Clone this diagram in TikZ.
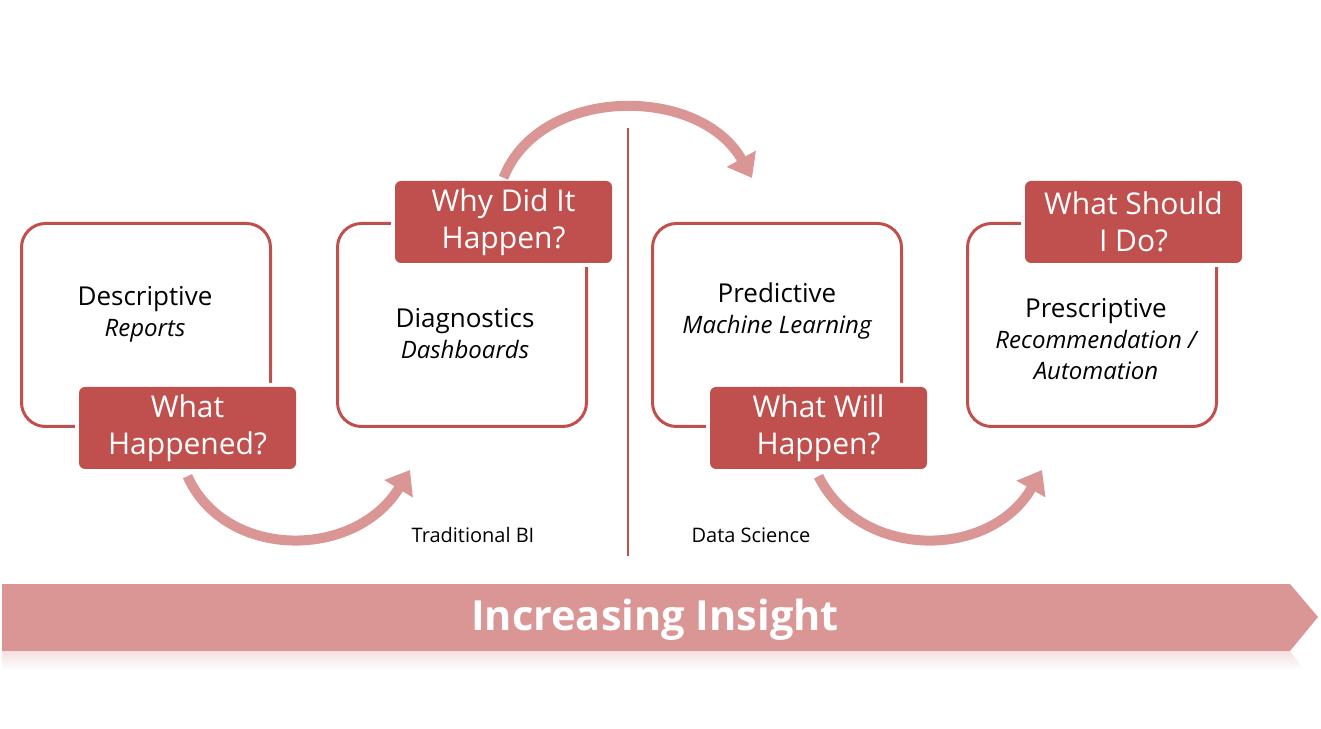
\documentclass[tikz,border=0pt]{standalone}
\usepackage{fontspec}
\setmainfont{Open Sans}
\usetikzlibrary{arrows.meta,positioning}
\definecolor{darkred}{HTML}{C0504D}
\definecolor{lightred}{HTML}{D99694}
\newcommand{\subline}[1]{{\fontsize{24}{31}\selectfont\itshape #1}}
\tikzset{
	stagebox/.style={draw=darkred,line width=3pt,rounded corners=24pt,minimum width=249pt,minimum height=203pt},
	qbox/.style={fill=darkred,text=white,rounded corners=6pt,minimum width=217pt,minimum height=82pt,inner sep=0pt,align=center,
		font=\fontsize{30}{37}\selectfont,preaction={draw=white,line width=8pt}},
	stagetext/.style={align=center,font=\fontsize{26}{31}\selectfont},
	flow/.style={draw=lightred,line width=10pt,-{Triangle[length=22pt,width=32pt]}},
	note/.style={font=\fontsize{20}{22}\selectfont}
}
\begin{document}
\begin{tikzpicture}[x=1pt,y=1pt,>=stealth,line join=round]
		\useasboundingbox (0,0) rectangle (1321,728);
		\node[stagebox] (desc) at (146,403) {};
		\node[stagebox] (diag) at (462,403) {};
		\node[stagebox] (pred) at (777,403) {};
		\node[stagebox] (presc) at (1092,403) {};
		\node[stagetext] (desctext) at (145,414) {Descriptive\\\subline{Reports}};
		\node[stagetext] (diagtext) at (465,394) {Diagnostics\\\subline{Dashboards}};
		\node[stagetext] (predtext) at (777,417) {Predictive\\\subline{Machine Learning}};
		\node[stagetext] (presctext) at (1096,389) {Prescriptive\\\subline{Recommendation /}\\\subline{Automation}};
		\path 
		(410,258) coordinate (t1)
		(752,550) coordinate (t2)
		(1042,258) coordinate (t3)
		;
		\draw[darkred,line width=1.5pt] (628,172) -- (628,600);
		\node[qbox] (whathap) at ([xshift=41.5pt]desc.south) {What\\Happened?};
		\node[qbox] (whyhap) at ([xshift=41.5pt]diag.north) {Why Did It\\Happen?};
		\node[qbox] (willhap) at ([xshift=41.5pt]pred.south) {What Will\\Happen?};
		\node[qbox] (shoulddo) at ([xshift=41.5pt]presc.north) {What Should\\I Do?};
		\draw[flow] ([yshift=-7pt]whathap.south) .. controls (225,168) and (355,168) .. (t1);
		\draw[flow] ([yshift=3pt]whyhap.north) .. controls (540,643) and (700,643) .. (t2);
		\draw[flow] ([yshift=-7pt]willhap.south) .. controls (860,168) and (990,168) .. (t3);
		\node[note] (tradbi) at (473,193) {Traditional BI};
		\node[note] (datasci) at (751,193) {Data Science};
		\fill[lightred] (2,144) -- (1290,144) -- (1318,111) -- (1290,77) -- (2,77) -- cycle;
		\shade[top color=lightred!30,bottom color=white] (2,77) -- (1290,77) -- (1304,58) -- (2,58) -- cycle;
		\node[font=\fontsize{41.5}{48}\selectfont\bfseries,text=white,anchor=base] (insight) at (655,98) {Increasing Insight};
	\end{tikzpicture}
\end{document}
